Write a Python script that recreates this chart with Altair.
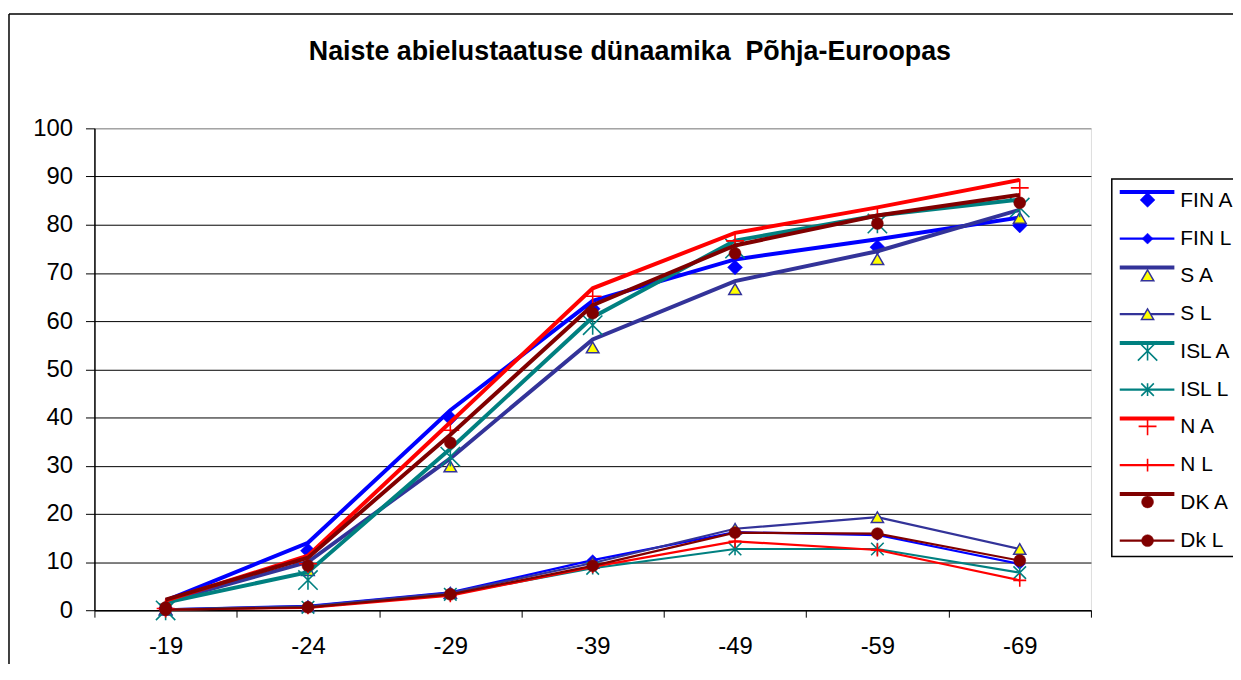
import altair as alt
import pandas as pd

TITLE = "Naiste abielustaatuse dünaamika \u00a0Põhja-Euroopas"
ages = ["-19", "-24", "-29", "-39", "-49", "-59", "-69"]
series_names = ["FIN A", "FIN L", "S A", "S L", "ISL A", "ISL L", "N A", "N L", "DK A", "Dk L"]

fin_a = [2.0, 14.0, 41.5, 64.2, 72.8, 77.0, 81.5]
fin_l = [0.2, 0.9, 3.7, 10.4, 16.2, 15.6, 9.6]
s_a = [1.8, 10.0, 31.5, 56.2, 68.3, 74.5, 83.1]
s_l = [0.2, 0.8, 3.6, 9.8, 16.9, 19.3, 12.7]
isl_a = [1.6, 7.9, 33.5, 60.8, 76.7, 81.9, 85.2]
isl_l = [0.1, 0.6, 3.3, 8.7, 12.7, 12.7, 7.8]
n_a = [2.0, 11.3, 39.0, 66.8, 78.3, 83.6, 89.3]
n_l = [0.1, 0.5, 3.0, 9.0, 14.3, 12.5, 6.2]
dk_a = [2.2, 10.9, 36.4, 63.3, 75.7, 81.9, 86.2]
dk_l = [0.1, 0.6, 3.3, 9.2, 16.1, 15.9, 10.3]

values = {
    "FIN A": fin_a, "FIN L": fin_l, "S A": s_a, "S L": s_l,
    "ISL A": isl_a, "ISL L": isl_l, "N A": n_a, "N L": n_l,
    "DK A": dk_a, "Dk L": dk_l,
}

rows = [{"age": a, "series": s, "value": v}
        for s in series_names for a, v in zip(ages, values[s])]
df = pd.DataFrame(rows)
leg_df = pd.DataFrame({"series": series_names})
title_df = pd.DataFrame({"t": [TITLE]})
one_df = pd.DataFrame({"k": [0]})

FONT = "Liberation Sans"
BLUE, NAVY, TEAL, RED, MAROON, YELLOW = "#0000FF", "#333399", "#008080", "#FF0000", "#800000", "#FFFF00"
PLUS = "M-1,0L1,0M0,-1L0,1"
ASTER = "M-1,-1L1,1M-1,1L1,-1M0,-1L0,1"
WA, WL = 4, 2.2

style = {
    "FIN A": dict(color=BLUE, width=WA, shape="diamond", size=225, fill=BLUE, filled=True),
    "FIN L": dict(color=BLUE, width=WL, shape="diamond", size=121, fill=BLUE, filled=True),
    "S A": dict(color=NAVY, width=WA, shape="triangle-up", size=160, fill=YELLOW, filled=True),
    "S L": dict(color=NAVY, width=WL, shape="triangle-up", size=150, fill=YELLOW, filled=True),
    "ISL A": dict(color=TEAL, width=WA, shape=ASTER, size=380, fill=None, filled=False),
    "ISL L": dict(color=TEAL, width=WL, shape=ASTER, size=160, fill=None, filled=False),
    "N A": dict(color=RED, width=WA, shape=PLUS, size=324, fill=None, filled=False),
    "N L": dict(color=RED, width=WL, shape=PLUS, size=169, fill=None, filled=False),
    "DK A": dict(color=MAROON, width=WA, shape="circle", size=144, fill=MAROON, filled=True),
    "Dk L": dict(color=MAROON, width=WL, shape="circle", size=144, fill=MAROON, filled=True),
}

X = alt.X("age:N", sort=ages, bandPosition=0.5,
          scale=alt.Scale(type="band", domain=ages, paddingInner=0, paddingOuter=0),
          axis=alt.Axis(title=None, tickBand="extent", tickSize=7, tickColor="black",
                        domainColor="black", domainWidth=1.5, labelAngle=0,
                        labelFontSize=24, labelFont=FONT, labelColor="black",
                        labelPadding=18, grid=False))
Y = alt.Y("value:Q",
          scale=alt.Scale(domain=[0, 100], nice=False, zero=True),
          axis=alt.Axis(title=None, values=list(range(0, 101, 10)), grid=True,
                        gridColor=alt.condition("datum.value == 100", alt.value("#808080"), alt.value("#000000")),
                        gridWidth=1, domainColor="black", domainWidth=1.5,
                        tickColor="black", tickSize=9, labelFontSize=24, labelFont=FONT,
                        labelColor="black", labelPadding=13))


def point_mark(st, offset):
    kw = dict(shape=st["shape"], size=st["size"], opacity=1, yOffset=offset)
    if st["filled"]:
        kw.update(filled=True, fill=st["fill"], stroke=st["color"],
                  strokeWidth=1.5 if st["fill"] != st["color"] else 0.5)
    else:
        kw.update(filled=False, stroke=st["color"], strokeWidth=1.6)
    return kw


layers = []

# chart-area frame (top and left edges) and legend box
layers.append(alt.Chart(one_df).mark_rule(color="black", strokeWidth=1.5).encode(
    x=alt.value(-86), x2=alt.value(1150), y=alt.value(-115)))
layers.append(alt.Chart(one_df).mark_rule(color="black", strokeWidth=1.5).encode(
    x=alt.value(-86), y=alt.value(-115), y2=alt.value(540)))
layers.append(alt.Chart(one_df).mark_rect(fill="white", stroke="black", strokeWidth=1.5).encode(
    x=alt.value(1024), x2=alt.value(1160), y=alt.value(51), y2=alt.value(431)))

# title
layers.append(alt.Chart(title_df).mark_text(
    fontSize=27, fontWeight="bold", font=FONT, color="black", align="center", baseline="middle"
).encode(x=alt.value(539), y=alt.value(-77), text="t:N"))

# data series
for s in series_names:
    st = style[s]
    is_a = s.endswith("A")
    base = alt.Chart(df).transform_filter(alt.datum.series == s)
    layers.append(base.mark_line(color=st["color"], strokeWidth=st["width"]).encode(x=X, y=Y))
    layers.append(base.mark_point(**point_mark(st, 8 if is_a else 0)).encode(x=X, y=Y))

# legend entries
for i, s in enumerate(series_names):
    st = style[s]
    is_a = s.endswith("A")
    yi = 73 + 38 * i
    ly = yi - 9 if is_a else yi
    ld = alt.Chart(leg_df).transform_filter(alt.datum.series == s)
    layers.append(ld.mark_rule(color=st["color"], strokeWidth=st["width"]).encode(
        x=alt.value(1032), x2=alt.value(1087), y=alt.value(ly)))
    layers.append(ld.mark_point(**point_mark(st, 8 if is_a else 0)).encode(
        x=alt.value(1060), y=alt.value(ly)))
    layers.append(ld.mark_text(fontSize=21, font=FONT, color="black", align="left",
                               baseline="middle").encode(
        x=alt.value(1093), y=alt.value(yi), text="series:N"))

chart = alt.layer(*layers).properties(
    width=1003, height=485,
    padding={"left": 87, "top": 119, "right": 143, "bottom": 52},
    autosize=alt.AutoSizeParams(type="none"),
).configure_view(stroke="#808080", strokeWidth=1.5).configure(background="white")

chart.save("out.html", embed_options={"renderer": "svg", "actions": False})
